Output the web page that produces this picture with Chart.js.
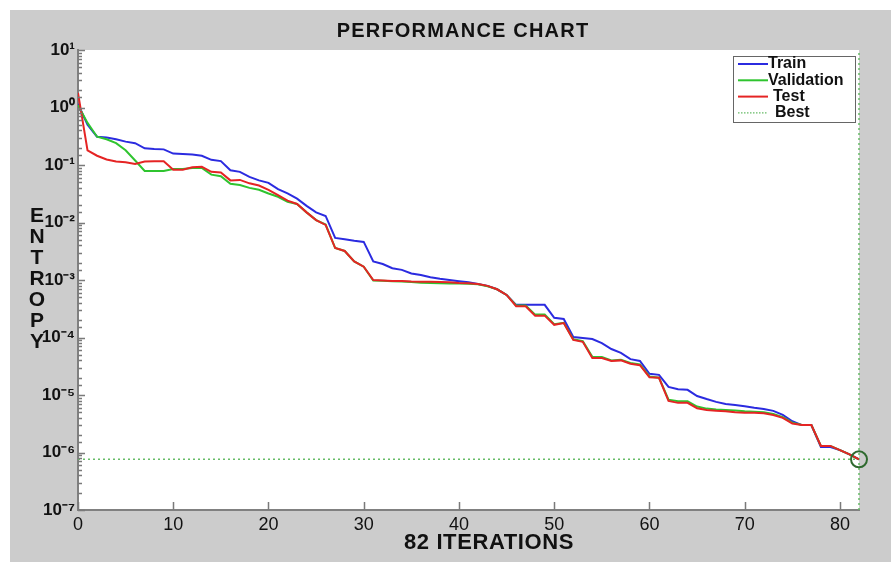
<!DOCTYPE html>
<html>
<head>
<meta charset="utf-8">
<script src="https://cdn.jsdelivr.net/npm/chart.js@4.4.1/dist/chart.umd.min.js"></script>
<style>
  html, body { margin: 0; padding: 0; background: #ffffff; }
  #wrap { width: 891px; height: 562px; }
</style>
</head>
<body>
<div id="wrap"><canvas id="perfChart" width="891" height="562"></canvas></div>
<script>
// values, one per iteration (0..82)
const trainLoss = [
  1.15, 0.50, 0.31, 0.30, 0.28, 0.255, 0.24, 0.195, 0.19, 0.187,
  0.158, 0.155, 0.152, 0.145, 0.123, 0.117, 0.081, 0.076, 0.062, 0.054,
  0.049, 0.038, 0.032, 0.026, 0.0195, 0.015, 0.013, 0.0054, 0.0051, 0.0048,
  0.0046, 0.0021, 0.0019, 0.0016, 0.0015, 0.0013, 0.00122, 0.00112, 0.00105, 0.00100,
  0.00095, 0.00091, 0.00085, 0.00079, 0.00069, 0.00055, 0.00037, 0.00037, 0.00037, 0.00037,
  0.00022, 0.00021, 0.000102, 0.000098, 0.000094, 0.000080, 0.000063, 0.000054, 0.000042, 0.000039,
  0.0000234, 0.0000224, 0.0000138, 0.0000126, 0.0000123, 0.0000096, 0.0000085, 0.0000076, 0.0000070, 0.0000067,
  0.0000064, 0.0000060, 0.0000057, 0.0000053, 0.0000045, 0.0000035, 0.0000030, 0.0000030, 0.00000125, 0.00000125,
  0.0000011, 0.00000093, 0.00000076
];
const validationLoss = [
  1.1, 0.54, 0.31, 0.28, 0.24, 0.18, 0.12, 0.079, 0.079, 0.079,
  0.085, 0.085, 0.089, 0.089, 0.068, 0.064, 0.047, 0.045, 0.040, 0.037,
  0.032, 0.028, 0.023, 0.021, 0.015, 0.011, 0.0092, 0.0036, 0.0032, 0.0021,
  0.0017, 0.00098, 0.00097, 0.00095, 0.00094, 0.00092, 0.00090, 0.00089, 0.00088, 0.00087,
  0.00087, 0.00086, 0.00084, 0.00078, 0.00069, 0.00055, 0.00036, 0.00036, 0.00025, 0.00025,
  0.000170, 0.000180, 0.000093, 0.000086, 0.000046, 0.000046, 0.000040, 0.000041, 0.000036, 0.000034,
  0.000021, 0.000020, 0.0000083, 0.0000078, 0.0000078, 0.0000063, 0.0000058, 0.0000056, 0.0000055, 0.0000054,
  0.0000052, 0.0000051, 0.0000050, 0.0000047, 0.0000041, 0.0000033, 0.0000030, 0.0000030, 0.0000013, 0.0000013,
  0.0000011, 0.00000093, 0.00000076
];
const testLoss = [
  1.8, 0.18, 0.145, 0.125, 0.115, 0.112, 0.104, 0.115, 0.116, 0.116,
  0.083, 0.083, 0.091, 0.093, 0.076, 0.074, 0.054, 0.055, 0.048, 0.044,
  0.037, 0.030, 0.024, 0.021, 0.015, 0.011, 0.0091, 0.0036, 0.0032, 0.0021,
  0.0017, 0.00100, 0.00098, 0.00096, 0.00096, 0.00094, 0.00093, 0.00093, 0.00092, 0.00091,
  0.00089, 0.00088, 0.00085, 0.00079, 0.00069, 0.00055, 0.00035, 0.00035, 0.00024, 0.00024,
  0.000166, 0.000178, 0.000091, 0.000084, 0.000044, 0.000044, 0.000039, 0.000040, 0.000035, 0.000033,
  0.0000204, 0.0000199, 0.0000079, 0.0000073, 0.0000073, 0.0000059, 0.0000055, 0.0000053, 0.0000052, 0.0000050,
  0.0000049, 0.0000049, 0.0000048, 0.0000045, 0.0000040, 0.0000032, 0.0000030, 0.0000030, 0.0000013, 0.0000013,
  0.0000011, 0.00000093, 0.00000076
];
const bestIteration = 82;
const bestValue = 7.6e-7;
const xTicks = [0, 10, 20, 30, 40, 50, 60, 70, 80];
const yMin = 1e-7;
const yMax = 10;

const seriesNames = ['Train', 'Validation', 'Test', 'Best'];
const seriesColors = ['#2b2be0', '#2fc42f', '#e52424', '#66bb66'];
const FONT = '"Liberation Sans", Arial, sans-serif';

const SUP = { '-': '\u207B', '0': '\u2070', '1': '\u00B9', '2': '\u00B2', '3': '\u00B3',
              '4': '\u2074', '5': '\u2075', '6': '\u2076', '7': '\u2077', '8': '\u2078', '9': '\u2079' };
function powerLabel(e) {
    return '10' + String(e).split('').map(c => SUP[c]).join('');
}

const toPoints = arr => arr.map((v, i) => ({ x: i, y: v }));

// background, inward ticks, titles, legend box
const matlabLook = {
    id: 'matlabLook',
    beforeDraw(chart) {
        const { ctx, chartArea: a, width, height } = chart;
        ctx.save();
        ctx.fillStyle = '#ffffff';
        ctx.fillRect(0, 0, width, height);
        ctx.fillStyle = '#cccccc';
        ctx.fillRect(10, 10, width - 10, height - 10);
        ctx.fillStyle = '#ffffff';
        ctx.fillRect(a.left, a.top, a.right - a.left, a.bottom - a.top);
        ctx.restore();
    },
    afterDraw(chart) {
        const { ctx, chartArea: a, scales } = chart;
        ctx.save();

        // inward tick marks
        ctx.strokeStyle = '#7a7a7a';
        ctx.lineWidth = 1.5;
        ctx.beginPath();
        scales.y.ticks.forEach(t => {
            const e = Math.log10(t.value);
            const major = Math.abs(e - Math.round(e)) < 1e-6;
            const py = Math.round(scales.y.getPixelForValue(t.value)) + 0.5;
            ctx.moveTo(a.left, py);
            ctx.lineTo(a.left + (major ? 7 : 4), py);
        });
        scales.x.ticks.forEach(t => {
            const px = Math.round(scales.x.getPixelForValue(t.value)) + 0.5;
            ctx.moveTo(px, a.bottom);
            ctx.lineTo(px, a.bottom - 8);
        });
        ctx.stroke();

        // chart title
        ctx.fillStyle = '#111111';
        ctx.textAlign = 'center';
        ctx.textBaseline = 'middle';
        ctx.letterSpacing = '1.2px';
        ctx.font = 'bold 20px ' + FONT;
        ctx.fillText('PERFORMANCE CHART', 463, 31);

        // x axis title
        ctx.letterSpacing = '0.6px';
        ctx.font = 'bold 22px ' + FONT;
        ctx.fillText('82 ITERATIONS', 489, 543);
        ctx.letterSpacing = '0px';

        // stacked y axis title
        ctx.font = 'bold 21px ' + FONT;
        'ENTROPY'.split('').forEach((ch, i) => {
            ctx.fillText(ch, 37, 216 + i * 21);
        });

        // legend box
        const lx = 733, ly = 56, lw = 122, lh = 66;
        ctx.fillStyle = '#ffffff';
        ctx.fillRect(lx, ly, lw, lh);
        ctx.strokeStyle = '#666666';
        ctx.lineWidth = 1;
        ctx.strokeRect(lx + 0.5, ly + 0.5, lw, lh);
        ctx.font = 'bold 16px ' + FONT;
        ctx.textAlign = 'left';
        const textX = [768, 768, 773, 775];
        seriesNames.forEach((name, i) => {
            const yy = ly + 8 + i * 16.3;
            ctx.strokeStyle = seriesColors[i];
            ctx.lineWidth = i === 3 ? 1.2 : 2;
            ctx.setLineDash(i === 3 ? [1.5, 1.5] : []);
            ctx.beginPath();
            ctx.moveTo(lx + 5, yy);
            ctx.lineTo(lx + 35, yy);
            ctx.stroke();
            ctx.setLineDash([]);
            ctx.fillStyle = '#111111';
            ctx.fillText(name, textX[i], yy);
        });
        ctx.restore();
    }
};

const lineStyle = (color, order) => ({
    borderColor: color,
    backgroundColor: color,
    borderWidth: 2,
    pointRadius: 0,
    tension: 0,
    fill: false,
    order: order
});

new Chart(document.getElementById('perfChart'), {
    type: 'line',
    data: {
        datasets: [
            Object.assign({ label: seriesNames[0], data: toPoints(trainLoss) }, lineStyle(seriesColors[0], 2)),
            Object.assign({ label: seriesNames[1], data: toPoints(validationLoss) }, lineStyle(seriesColors[1], 1)),
            Object.assign({ label: seriesNames[2], data: toPoints(testLoss) }, lineStyle(seriesColors[2], 0)),
            {
                label: 'Best',
                data: [{ x: 0, y: bestValue }, { x: bestIteration, y: bestValue }],
                borderColor: seriesColors[3], borderWidth: 1.5, borderDash: [2, 3],
                pointRadius: 0, order: 3
            },
            {
                label: 'Best epoch',
                data: [{ x: bestIteration, y: yMin }, { x: bestIteration, y: yMax }],
                borderColor: seriesColors[3], borderWidth: 1.5, borderDash: [2, 3],
                pointRadius: 0, order: 3, clip: false
            },
            {
                label: 'Best point',
                data: [{ x: bestIteration, y: bestValue }],
                showLine: false,
                pointRadius: 8,
                pointBorderWidth: 2,
                pointBorderColor: '#2f6a2f',
                pointBackgroundColor: 'rgba(0,0,0,0)',
                order: -1,
                clip: false
            }
        ]
    },
    options: {
        responsive: false,
        animation: false,
        layout: { padding: { top: 50, left: 10, right: 32, bottom: 0 } },
        plugins: {
            legend: { display: false },
            title: { display: false },
            tooltip: { enabled: false }
        },
        scales: {
            x: {
                type: 'linear',
                min: 0,
                max: bestIteration,
                afterBuildTicks: scale => { scale.ticks = xTicks.map(v => ({ value: v })); },
                afterFit: scale => { scale.height = 52; },
                border: { display: true, color: '#808080', width: 2 },
                grid: { display: true, drawOnChartArea: false, drawTicks: false },
                ticks: {
                    autoSkip: false,
                    maxRotation: 0,
                    padding: 4,
                    color: '#111111',
                    font: { family: FONT, size: 18 }
                }
            },
            y: {
                type: 'logarithmic',
                min: yMin,
                max: yMax,
                afterFit: scale => { scale.width = 68; },
                border: { display: true, color: '#808080', width: 2 },
                grid: { display: true, drawOnChartArea: false, drawTicks: false },
                ticks: {
                    autoSkip: false,
                    padding: 3,
                    color: '#111111',
                    font: { family: FONT, size: 17, weight: 'bold' },
                    callback: function(value) {
                        const e = Math.log10(value);
                        if (Math.abs(e - Math.round(e)) < 1e-6) return powerLabel(Math.round(e));
                        return '';
                    }
                }
            }
        }
    },
    plugins: [matlabLook]
});
</script>
</body>
</html>
